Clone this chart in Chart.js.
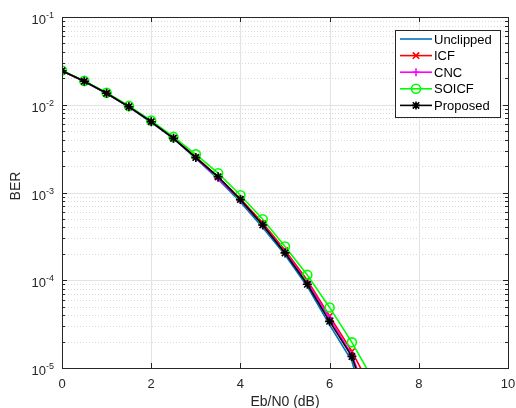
<!DOCTYPE html>
<html>
<head>
<meta charset="utf-8">
<script src="https://cdn.jsdelivr.net/npm/chart.js@4/dist/chart.umd.min.js"></script>
<style>
  body { margin: 0; background: #fff; }
  canvas { display: block; }
</style>
</head>
<body>
<canvas id="chart" width="516" height="408"></canvas>
<script>
// DATA
const ebn0 = [0, 0.5, 1, 1.5, 2, 2.5, 3, 3.5, 4, 4.5, 5, 5.5, 6, 6.5, 7];
const berUnclipped = [0.0243, 0.0184, 0.0134, 0.0094, 0.0063, 0.0041, 0.00245, 0.00142, 7.8e-4, 4.0e-4, 1.95e-4, 8.5e-5, 3.1e-5, 1.2e-5, 1.5e-6];
const berICF = [0.0244, 0.0185, 0.0135, 0.0095, 0.0064, 0.0042, 0.00255, 0.0015, 8.5e-4, 4.5e-4, 2.2e-4, 1.0e-4, 3.9e-5, 1.55e-5, 5.0e-6];
const berCNC = [0.0244, 0.0185, 0.0135, 0.0095, 0.0064, 0.00413, 0.0025, 0.00146, 8.2e-4, 4.3e-4, 2.1e-4, 9.5e-5, 3.7e-5, 1.4e-5, 3.0e-6];
const berSOICF = [0.0246, 0.0187, 0.0137, 0.0097, 0.0066, 0.0043, 0.00272, 0.00166, 9.3e-4, 4.95e-4, 2.42e-4, 1.15e-4, 4.9e-5, 1.96e-5, 7.0e-6];
const berProposed = [0.0244, 0.0185, 0.0135, 0.0095, 0.0064, 0.00414, 0.0025, 0.00151, 8.3e-4, 4.27e-4, 2.05e-4, 9.0e-5, 3.4e-5, 1.35e-5, 2.4e-6];

const xTicks = [0, 2, 4, 6, 8, 10];
const yExps = [-1, -2, -3, -4, -5];

const FONT = '"Liberation Sans", Arial, sans-serif';
const AX = '#262626';
const LW = 1.6;

function pts(arr) {
  return ebn0.map((x, i) => ({ x: x, y: arr[i] }));
}

// legend entries drawn by hand (MATLAB style box)
const legendItems = [
  { label: 'Unclipped', color: '#0072BD', marker: null },
  { label: 'ICF', color: '#FF0000', marker: 'x' },
  { label: 'CNC', color: '#FF00FF', marker: '+' },
  { label: 'SOICF', color: '#00FF00', marker: 'o' },
  { label: 'Proposed', color: '#000000', marker: '*' },
];

function drawMarker(c, m, x, y, color) {
  c.save();
  c.strokeStyle = color;
  c.lineWidth = LW;
  c.beginPath();
  const r = 4;
  if (m === 'x' || m === '*') {
    c.moveTo(x - r * 0.8, y - r * 0.8); c.lineTo(x + r * 0.8, y + r * 0.8);
    c.moveTo(x - r * 0.8, y + r * 0.8); c.lineTo(x + r * 0.8, y - r * 0.8);
  }
  if (m === '+' || m === '*') {
    c.moveTo(x - r, y); c.lineTo(x + r, y);
    c.moveTo(x, y - r); c.lineTo(x, y + r);
  }
  if (m === 'o') {
    c.arc(x, y, 4.5, 0, Math.PI * 2);
  }
  c.stroke();
  c.restore();
}

const matlabAxes = {
  id: 'matlabAxes',
  beforeDatasetsDraw(chart) {
    const c = chart.ctx, a = chart.chartArea;
    const xs = chart.scales.x, ys = chart.scales.y;
    c.save();
    // minor y grid (dotted)
    c.strokeStyle = '#d9d9d9';
    c.lineWidth = 1;
    c.setLineDash([1, 2]);
    for (let d = -5; d < -1; d++) {
      for (let m = 2; m <= 9; m++) {
        const py = Math.round(ys.getPixelForValue(m * Math.pow(10, d))) + 0.5;
        c.beginPath(); c.moveTo(a.left, py); c.lineTo(a.right, py); c.stroke();
      }
    }
    c.setLineDash([]);
    // major grid
    c.strokeStyle = '#e3e3e3';
    xTicks.forEach(v => {
      const px = Math.round(xs.getPixelForValue(v)) + 0.5;
      c.beginPath(); c.moveTo(px, a.top); c.lineTo(px, a.bottom); c.stroke();
    });
    yExps.forEach(e => {
      const py = Math.round(ys.getPixelForValue(Math.pow(10, e))) + 0.5;
      c.beginPath(); c.moveTo(a.left, py); c.lineTo(a.right, py); c.stroke();
    });
    c.restore();
  },
  afterDatasetsDraw(chart) {
    const c = chart.ctx, a = chart.chartArea;
    const xs = chart.scales.x, ys = chart.scales.y;
    c.save();
    // box
    c.strokeStyle = AX;
    c.lineWidth = 1;
    c.strokeRect(Math.round(a.left) + 0.5, Math.round(a.top) + 0.5,
      Math.round(a.right - a.left), Math.round(a.bottom - a.top));
    // x ticks
    c.beginPath();
    xTicks.forEach(v => {
      const px = Math.round(xs.getPixelForValue(v)) + 0.5;
      c.moveTo(px, a.bottom); c.lineTo(px, a.bottom - 5);
      c.moveTo(px, a.top); c.lineTo(px, a.top + 5);
    });
    // y ticks, major and minor
    yExps.forEach(e => {
      const py = Math.round(ys.getPixelForValue(Math.pow(10, e))) + 0.5;
      c.moveTo(a.left, py); c.lineTo(a.left + 5, py);
      c.moveTo(a.right, py); c.lineTo(a.right - 5, py);
    });
    for (let d = -5; d < -1; d++) {
      for (let m = 2; m <= 9; m++) {
        const py = Math.round(ys.getPixelForValue(m * Math.pow(10, d))) + 0.5;
        c.moveTo(a.left, py); c.lineTo(a.left + 3, py);
        c.moveTo(a.right, py); c.lineTo(a.right - 3, py);
      }
    }
    c.stroke();

    // tick labels
    c.fillStyle = AX;
    c.font = '13px ' + FONT;
    c.textAlign = 'center';
    c.textBaseline = 'alphabetic';
    xTicks.forEach(v => {
      c.fillText(String(v), xs.getPixelForValue(v), a.bottom + 20);
    });
    yExps.forEach(e => {
      const py = ys.getPixelForValue(Math.pow(10, e));
      const ex = String(e);
      c.font = '9px ' + FONT;
      const ew = c.measureText(ex).width;
      c.textAlign = 'right';
      c.fillText(ex, 54, py + 1);
      c.font = '13px ' + FONT;
      c.fillText('10', 54 - ew, py + 7);
    });

    // axis titles
    c.font = '14px ' + FONT;
    c.textAlign = 'center';
    c.fillText('Eb/N0 (dB)', (a.left + a.right) / 2, 406);
    c.save();
    c.translate(20, 186);
    c.rotate(-Math.PI / 2);
    c.fillText('BER', 0, 0);
    c.restore();

    // legend
    const lx = 395, ly = 30, lw = 105, lh = 87;
    c.fillStyle = '#fff';
    c.fillRect(lx, ly, lw, lh);
    c.strokeStyle = AX;
    c.lineWidth = 1;
    c.strokeRect(lx + 0.5, ly + 0.5, lw, lh);
    c.font = '13px ' + FONT;
    c.textAlign = 'left';
    c.textBaseline = 'middle';
    legendItems.forEach((it, i) => {
      const y = ly + 9 + i * 16.6;
      c.strokeStyle = it.color;
      c.lineWidth = LW;
      c.beginPath(); c.moveTo(400, y); c.lineTo(432, y); c.stroke();
      if (it.marker) drawMarker(c, it.marker, 416, y, it.color);
      c.fillStyle = '#000';
      c.fillText(it.label, 434, y + 1);
    });
    c.restore();
  }
};

new Chart(document.getElementById('chart'), {
  type: 'line',
  data: {
    datasets: [
      { label: 'Unclipped', data: pts(berUnclipped), borderColor: '#0072BD', borderWidth: LW, pointRadius: 0, order: 5 },
      { label: 'ICF', data: pts(berICF), borderColor: '#FF0000', borderWidth: LW, pointStyle: 'crossRot', pointRadius: 4, pointBorderColor: '#FF0000', pointBorderWidth: LW, order: 4 },
      { label: 'CNC', data: pts(berCNC), borderColor: '#FF00FF', borderWidth: LW, pointStyle: 'cross', pointRadius: 4, pointBorderColor: '#FF00FF', pointBorderWidth: LW, order: 3 },
      { label: 'SOICF', data: pts(berSOICF), borderColor: '#00FF00', borderWidth: LW, pointStyle: 'circle', pointRadius: 4.5, pointBorderColor: '#00FF00', pointBackgroundColor: 'rgba(0,0,0,0)', pointBorderWidth: LW, order: 2 },
      { label: 'Proposed', data: pts(berProposed), borderColor: '#000000', borderWidth: LW, pointStyle: 'star', pointRadius: 4.5, pointBorderColor: '#000000', pointBorderWidth: LW, order: 1 },
    ],
  },
  options: {
    responsive: false,
    animation: false,
    devicePixelRatio: 1,
    layout: { padding: { top: 17, right: 8, left: 0, bottom: 0 } },
    plugins: { legend: { display: false }, tooltip: { enabled: false } },
    scales: {
      x: {
        type: 'linear', min: 0, max: 10,
        grid: { display: false }, border: { display: false },
        ticks: { display: false },
        afterFit: s => { s.height = 40; },
      },
      y: {
        type: 'logarithmic', min: 1e-5, max: 1e-1,
        grid: { display: false }, border: { display: false },
        ticks: { display: false },
        afterFit: s => { s.width = 62; },
      },
    },
  },
  plugins: [matlabAxes],
});
</script>
</body>
</html>
